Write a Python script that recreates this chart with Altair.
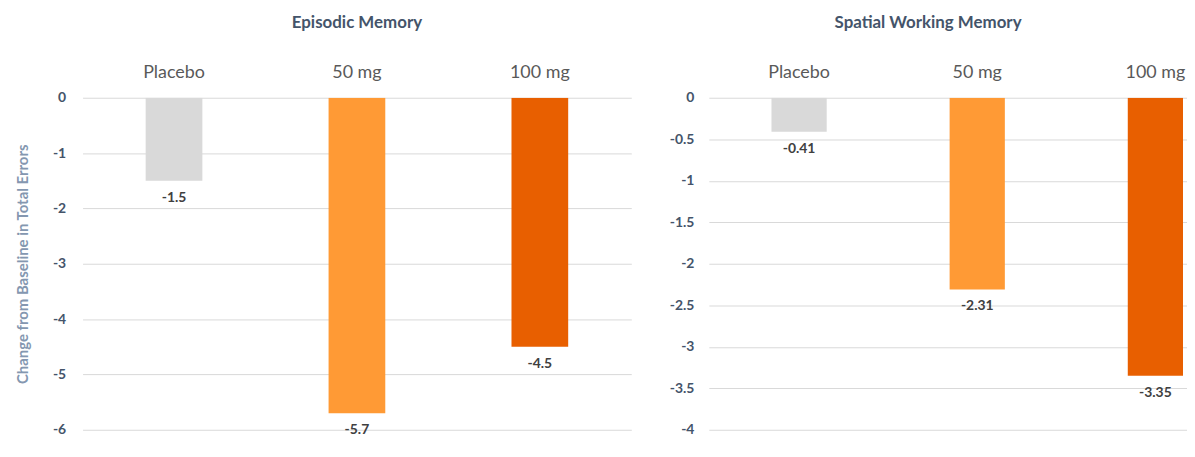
import altair as alt
import pandas as pd

categories = ["Placebo", "50 mg", "100 mg"]
episodic_values = [-1.5, -5.7, -4.5]
episodic_labels = ["-1.5", "-5.7", "-4.5"]
spatial_values = [-0.41, -2.31, -3.35]
spatial_labels = ["-0.41", "-2.31", "-3.35"]
bar_colors = ["#d9d9d9", "#ff9a35", "#e85f00"]
episodic_ticks = [0, -1, -2, -3, -4, -5, -6]
spatial_ticks = [0, -0.5, -1, -1.5, -2, -2.5, -3, -3.5, -4]

FONT = "Lato"
PLOT_H = 334


def panel(values, labels, title, ticks, domain, width, xscale, ytitle, title_dx, lab_pad):
    df = pd.DataFrame({"cat": categories, "v": values, "lab": labels})
    x = alt.X(
        "cat:N",
        sort=categories,
        scale=xscale,
        axis=alt.Axis(
            orient="top", title=None, domain=False, ticks=False, tickSize=0, labelAngle=0,
            labelColor="#595959", labelFontSize=18, labelFont=FONT, labelPadding=25,
            labelBaseline="middle",
        ),
    )
    yaxis_kwargs = dict(
        values=ticks, domain=False, ticks=False, tickSize=0, grid=True, gridColor="#d9d9d9",
        labelColor="#44546a", labelFontSize=14, labelFontWeight="bold", labelFont=FONT,
        labelPadding=lab_pad, labelExpr="'' + datum.value",
    )
    if ytitle:
        yaxis_kwargs.update(
            title=ytitle, titleColor="#8497b0", titleFontSize=15, titleFont=FONT,
            titleFontWeight="bold", titlePadding=22,
        )
    else:
        yaxis_kwargs.update(title=None)
    y = alt.Y("v:Q", scale=alt.Scale(domain=domain, nice=False), axis=alt.Axis(**yaxis_kwargs))
    bars = alt.Chart(df).mark_bar(clip=True).encode(
        x=x, y=y,
        color=alt.Color("cat:N", scale=alt.Scale(domain=categories, range=bar_colors), legend=None),
    )
    text = alt.Chart(df).mark_text(
        baseline="middle", dy=17, fontWeight="bold", fontSize=14, color="#404040", font=FONT
    ).encode(x=alt.X("cat:N", sort=categories), y="v:Q", text="lab:N")
    return (bars + text).properties(
        width=width, height=PLOT_H,
        title=alt.TitleParams(
            title, dx=title_dx, anchor="middle", fontSize=17, font=FONT,
            fontWeight="bold", color="#44546a", offset=32,
        ),
    )


left_scale = alt.Scale(paddingInner=0.69, paddingOuter=0.345)
right_scale = alt.Scale(paddingInner=0.69, paddingOuter=0.187, align=0.94)

left = panel(episodic_values, episodic_labels, "Episodic Memory", episodic_ticks,
             [-6, 0], 552, left_scale, "Change from Baseline in Total Errors", 0, 17)
right = panel(spatial_values, spatial_labels, "Spatial Working Memory", spatial_ticks,
              [-4, 0], 481, right_scale, None, -20, 15)

chart = alt.hconcat(left, right, spacing=78, bounds="flush").configure_view(
    stroke=None
).properties(padding={"left": 7, "top": 5, "right": 0, "bottom": 0})

chart.save("out.html", embed_options={"renderer": "svg", "actions": False})
